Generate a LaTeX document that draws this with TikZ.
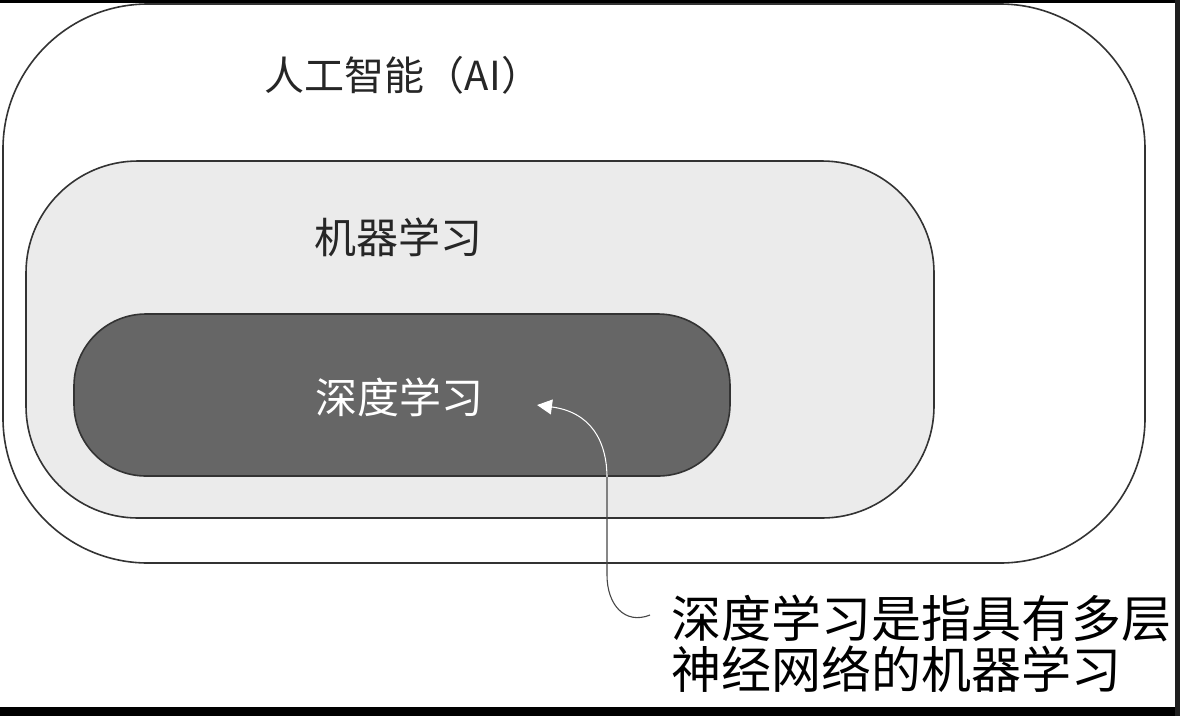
\documentclass[tikz,border=0pt]{standalone}
\usepackage{fontspec}
\newfontfamily\cjk{Noto Sans CJK SC}
\usetikzlibrary{arrows.meta}
\definecolor{mlgray}{HTML}{EBEBEB}
\definecolor{dlgray}{HTML}{666666}
\definecolor{edge}{HTML}{333333}
\tikzset{
  x=1pt, y=-1pt,
  box/.style={draw=edge, line width=1.6pt, inner sep=0pt},
  lbl/.style={inner sep=0pt, font=\cjk},
  pointer/.style={line width=1.1pt, -{Triangle[width=15pt,length=15pt,fill=white]}},
}
\begin{document}
\begin{tikzpicture}
\useasboundingbox (0,0) rectangle (1180,716);
\fill[black] (0,0) rectangle (1180,716);
\fill[white] (0,3) rectangle (1175,707);
\fill[black!88] (1175,0) rectangle (1180,716);
% boxes
\node[box, fill=white, rounded corners=145pt, minimum width=1142pt, minimum height=559pt] (ai) at (574,283.5) {};
\node[box, fill=mlgray, rounded corners=112pt, minimum width=908pt, minimum height=357pt] (ml) at (480,339.5) {};
\node[box, fill=dlgray, rounded corners=72pt, minimum width=656pt, minimum height=162pt] (dl) at (402,395) {};
% labels
\node[lbl, font=\cjk\fontsize{40pt}{48pt}\selectfont, text=black!85] (ailbl) at (403,75) {人工智能（AI）};
\node[lbl, font=\cjk\fontsize{42pt}{50pt}\selectfont, text=black!85] (mllbl) at (398,237) {机器学习};
\node[lbl, font=\cjk\fontsize{42pt}{50pt}\selectfont, text=white] (dllbl) at (399,397) {深度学习};
\node[lbl, font=\cjk\fontsize{50pt}{51pt}\selectfont, align=left, anchor=north west] (note) at (671,595) {深度学习是指具有多层\\神经网络的机器学习};
% pointer
\coordinate (tail) at ([xshift=-21pt, yshift=-20pt]note.north west);
\coordinate (tip) at (537,405);
\draw[pointer, draw=edge!90] (tail) .. controls (625,625) and (607,605) .. (607,575) -- (607,478) .. controls (607,440) and (590,412) .. (tip);
\begin{scope}
\clip[rounded corners=72pt] (dl.south west) rectangle (dl.north east);
\draw[pointer, draw=white] (tail) .. controls (625,625) and (607,605) .. (607,575) -- (607,478) .. controls (607,440) and (590,412) .. (tip);
\end{scope}
\end{tikzpicture}
\end{document}
